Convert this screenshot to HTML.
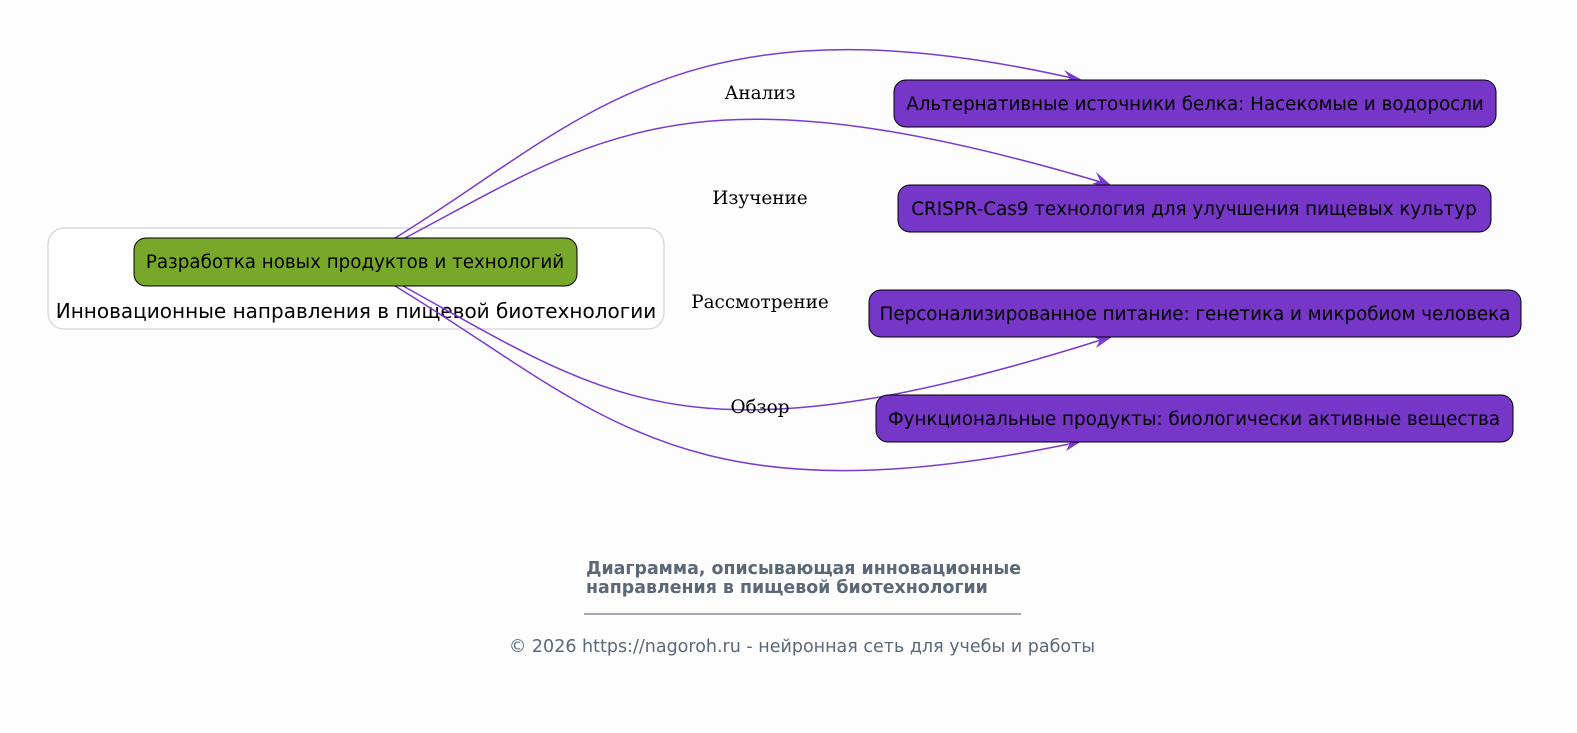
<!DOCTYPE html>
<html><head><meta charset="utf-8"><style>
body{margin:0;background:#fdfdfd;}
svg{display:block}
.n{font-family:"DejaVu Sans","Liberation Sans",sans-serif;font-size:18.3px;fill:#000}
.s{font-family:"DejaVu Sans","Liberation Sans",sans-serif;font-size:20px;fill:#000}
.l{font-family:"DejaVu Serif","Liberation Serif",serif;font-size:18.4px;fill:#000}
.t{font-family:"DejaVu Sans","Liberation Sans",sans-serif;font-size:17.4px;font-weight:bold;fill:#5a6878}
.f{font-family:"DejaVu Sans","Liberation Sans",sans-serif;font-size:17.5px;fill:#5a6878}
</style></head><body>
<svg width="1577" height="733" viewBox="0 0 1577 733" xmlns="http://www.w3.org/2000/svg">
<rect width="1577" height="733" fill="#fdfdfd"/>
<rect x="48" y="228" width="616" height="101" rx="16" fill="#fff" stroke="#d3d3d3" stroke-width="1.2"/>
<text class="s" x="356" y="318" text-anchor="middle">Инновационные направления в пищевой биотехнологии</text>
<g fill="none" stroke="#7a3ad0" stroke-width="1.5">
<path d="M395,238 C580,125 680,-10 1072,78"/>
<path d="M405,238 C600,135 690,60 1104,183"/>
<path d="M403,286 C610,400 690,470 1104,339"/>
<path d="M395,286 C600,410 680,525 1074,443"/>
</g>
<g fill="#7a3ad0">
<polygon points="1082,80 1064,70 1070,78 1062,84"/>
<polygon points="1112,186 1096,172 1100,181 1092,184"/>
<polygon points="1112,337 1092,336 1100,340 1096,348"/>
<polygon points="1082,441 1062,438 1070,443 1066,451"/>
</g>
<rect x="894" y="80" width="602" height="47" rx="12" fill="#7636c7" stroke="#000"/>
<text class="n" x="1195" y="110" text-anchor="middle">Альтернативные источники белка: Насекомые и водоросли</text>
<rect x="898" y="185" width="593" height="47" rx="12" fill="#7636c7" stroke="#000"/>
<text class="n" x="1194" y="215" text-anchor="middle">CRISPR-Cas9 технология для улучшения пищевых культур</text>
<rect x="869" y="290" width="652" height="47" rx="12" fill="#7636c7" stroke="#000"/>
<text class="n" x="1195" y="320" text-anchor="middle">Персонализированное питание: генетика и микробиом человека</text>
<rect x="876" y="395" width="637" height="47" rx="12" fill="#7636c7" stroke="#000"/>
<text class="n" x="1194" y="425" text-anchor="middle">Функциональные продукты: биологически активные вещества</text>
<rect x="134" y="238" width="443" height="48" rx="12" fill="#77a82a" stroke="#000"/>
<text class="n" x="355" y="268" text-anchor="middle">Разработка новых продуктов и технологий</text>
<text class="l" x="760" y="99" text-anchor="middle">Анализ</text>
<text class="l" x="760" y="204" text-anchor="middle">Изучение</text>
<text class="l" x="760" y="308" text-anchor="middle">Рассмотрение</text>
<text class="l" x="760" y="413" text-anchor="middle">Обзор</text>
<text class="t" x="586" y="574">Диаграмма, описывающая инновационные</text>
<text class="t" x="586" y="593">направления в пищевой биотехнологии</text>
<text class="f" x="802" y="652" text-anchor="middle">© 2026 https://nagoroh.ru - нейронная сеть для учебы и работы</text>
<line x1="584" y1="614" x2="1021" y2="614" stroke="#4a5868" stroke-width="1"/>
</svg>
</body></html>
